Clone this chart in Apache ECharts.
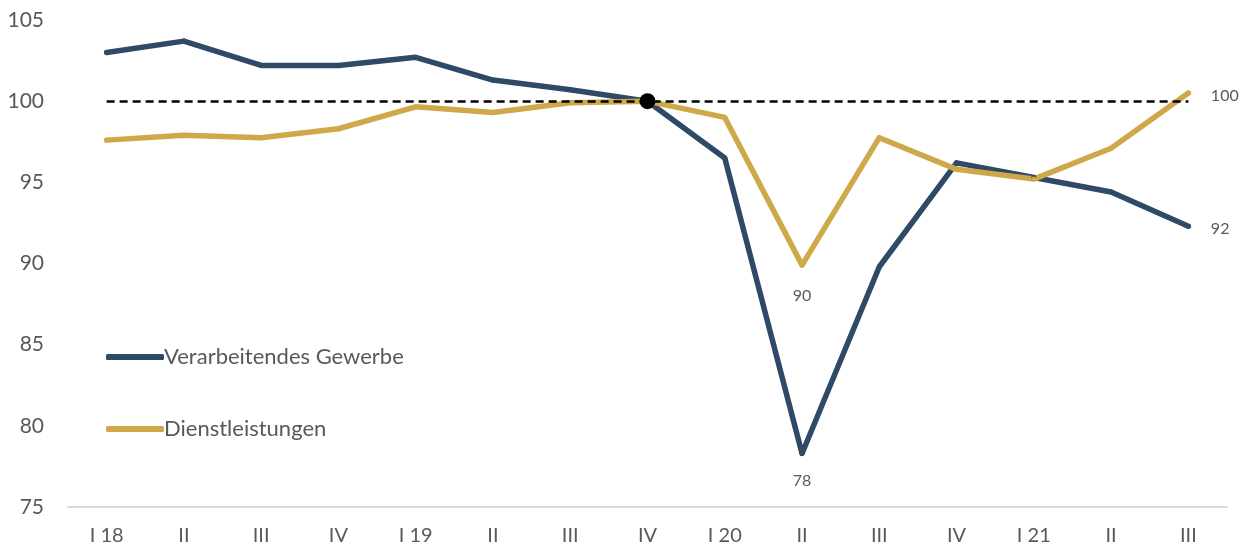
<!DOCTYPE html>
<html>
<head>
<meta charset="utf-8">
<script src="https://cdn.jsdelivr.net/npm/echarts@6/dist/echarts.min.js"></script>
<style>
  html, body { margin: 0; padding: 0; background: #fff; }
  #chart { width: 1248px; height: 546px; }
</style>
</head>
<body>
<div id="chart"></div>
<script>
// Quartale 2018 bis III 2021, Index IV 2019 = 100
const quarters = ['I 18', 'II', 'III', 'IV', 'I 19', 'II', 'III', 'IV', 'I 20', 'II', 'III', 'IV', 'I 21', 'II', 'III'];
const gewerbe = [103.0, 103.7, 102.2, 102.2, 102.7, 101.3, 100.7, 100.0, 96.5, 78.3, 89.8, 96.2, 95.3, 94.4, 92.3];
const dienst = [97.6, 97.9, 97.75, 98.3, 99.65, 99.3, 99.9, 100.0, 99.0, 89.9, 97.75, 95.8, 95.2, 97.1, 100.5];
const gewerbeLabels = { 9: '78', 14: '92' };
const dienstLabels = { 9: '90', 14: '100' };

const FONT = 'Lato';
const GREY = '#595959';
const BLUE = '#2e4a66';
const GOLD = '#cfa84a';

function withLabels (values, labels, dist) {
  return values.map((v, i) => {
    if (!(i in labels)) return v;
    const last = i === values.length - 1;
    return {
      value: v,
      label: {
        show: true,
        formatter: labels[i],
        position: last ? 'right' : 'bottom',
        distance: last ? 20 : dist,
        offset: last ? [0, 3] : [0, 0],
        color: GREY,
        fontFamily: FONT,
        fontSize: 16
      }
    };
  });
}

let myChart = echarts.init(document.getElementById('chart'));
myChart.setOption({
  animation: false,
  grid: { left: 68, right: 21, top: 20, bottom: 38 },
  legend: {
    orient: 'vertical',
    left: 101,
    top: 340,
    itemGap: 48,
    itemWidth: 58,
    itemHeight: 6,
    icon: 'roundRect',
    textStyle: { color: GREY, fontFamily: FONT, fontSize: 22, lineHeight: 24, padding: [0, 0, 0, -5] },
    data: ['Verarbeitendes Gewerbe', 'Dienstleistungen']
  },
  xAxis: {
    type: 'category',
    data: quarters,
    boundaryGap: true,
    axisLine: { lineStyle: { color: '#d9d9d9', width: 2 } },
    axisTick: { show: false },
    axisLabel: { color: GREY, fontFamily: FONT, fontSize: 20, margin: 19, interval: 0 }
  },
  yAxis: {
    type: 'value',
    min: 75,
    max: 105,
    interval: 5,
    axisLine: { show: false },
    axisTick: { show: false },
    splitLine: { show: false },
    axisLabel: { color: GREY, fontFamily: FONT, fontSize: 21, margin: 24 }
  },
  series: [
    {
      name: 'Verarbeitendes Gewerbe',
      type: 'line',
      data: withLabels(gewerbe, gewerbeLabels, 17),
      symbol: 'circle',
      symbolSize: 5,
      itemStyle: { color: BLUE },
      color: BLUE,
      lineStyle: { width: 5.5, color: BLUE, cap: 'round', join: 'round' }
    },
    {
      name: 'Dienstleistungen',
      type: 'line',
      data: withLabels(dienst, dienstLabels, 20),
      symbol: 'circle',
      symbolSize: 5,
      itemStyle: { color: GOLD },
      color: GOLD,
      lineStyle: { width: 5.5, color: GOLD, cap: 'round', join: 'round' },
      markLine: {
        silent: true,
        symbol: 'none',
        label: { show: false },
        lineStyle: { color: '#000', type: [8, 5], width: 2.5 },
        data: [[{ coord: [0, 100] }, { coord: [quarters.length - 1, 100] }]]
      },
      markPoint: {
        silent: true,
        symbol: 'circle',
        symbolSize: 16,
        itemStyle: { color: '#000' },
        label: { show: false },
        data: [{ coord: [7, 100] }]
      }
    }
  ]
});
</script>
</body>
</html>
